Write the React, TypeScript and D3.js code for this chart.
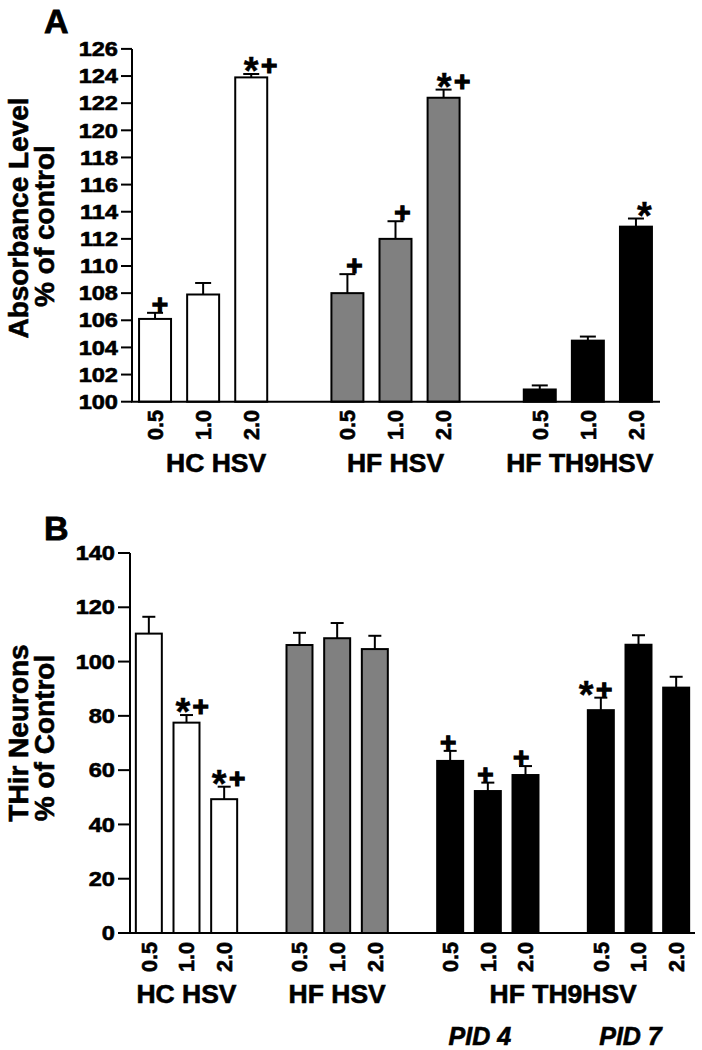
import React from "react";
import * as d3 from "d3";

// ---------- DATA ----------
const doseLabels = ["0.5", "1.0", "2.0"];

// Panel A: Absorbance level (% of control)
const groupsA = ["HC HSV", "HF HSV", "HF TH9HSV"];
const meansA = [
  [106.1, 107.9, 123.9],
  [108.0, 112.0, 122.4],
  [100.9, 104.5, 112.9],
];
const errorsA = [
  [0.45, 0.85, 0.25],
  [1.4, 1.3, 0.6],
  [0.3, 0.3, 0.6],
];
const marksA = [
  ["+", "", "*+"],
  ["+", "+", "*+"],
  ["", "", "*"],
];
const ticksA = d3.range(100, 127, 2);

// Panel B: THir neurons (% of control)
const groupsB = ["HC HSV", "HF HSV", "HF TH9HSV", "HF TH9HSV"];
const subLabelsB = ["", "", "PID 4", "PID 7"];
const meansB = [
  [110.3, 77.5, 49.3],
  [106.1, 108.6, 104.6],
  [63.4, 52.3, 58.2],
  [82.1, 106.2, 90.4],
];
const errorsB = [
  [6.2, 2.8, 4.6],
  [4.5, 5.6, 4.9],
  [3.7, 3.1, 3.3],
  [4.6, 3.5, 4.0],
];
const marksB = [
  ["", "*+", "*+"],
  ["", "", ""],
  ["+", "+", "+"],
  ["*+", "", ""],
];
const ticksB = d3.range(0, 141, 20);

// ---------- LAYOUT / STYLE ----------
const FONT = "'Liberation Sans', Arial, Helvetica, sans-serif";
const TXT = { fontWeight: "bold" as const, fontFamily: FONT, stroke: "#000", strokeWidth: 0.6 };
const fillsA = ["#ffffff", "#808080", "#000000"];
const fillsB = ["#ffffff", "#808080", "#000000", "#000000"];
// horizontal offsets of the first significance glyph relative to bar centre
const markDxA = [
  [5, 0, 0],
  [7, 7, 0.5],
  [0, 0, 8.5],
];
const markDxB = [
  [0, -3.7, -5],
  [0, 0, 0],
  [-2, -2.5, -4.3],
  [-14.7, 0, 0],
];

type PanelCfg = {
  letter: string;
  letterY: number;
  means: number[][];
  errors: number[][];
  marks: string[][];
  markDx: number[][];
  fills: string[];
  ticks: number[];
  yDomain: [number, number];
  yRange: [number, number];
  xRange: [number, number];
  axisX: number;
  padInner: number;
  capW: number;
  tickLen: number;
  doseTop: number;
  titles: [string, string];
  titleCenter: [number, number];
};

function Marks({ text, cx, errTop }: { text: string; cx: number; errTop: number }) {
  const out: React.ReactNode[] = [];
  let x = cx;
  for (let i = 0; i < text.length; i++) {
    const ch = text[i];
    if (ch === "*") {
      out.push(
        <text key={i} x={x} y={errTop + 10} textAnchor="middle" fontSize={38} {...TXT} strokeWidth={0.4}>
          *
        </text>
      );
    } else {
      out.push(
        <text key={i} x={x} y={errTop + 1} textAnchor="middle" fontSize={28} {...TXT} strokeWidth={1.2}>
          +
        </text>
      );
    }
    x += 18;
  }
  return <g>{out}</g>;
}

function Panel({ cfg }: { cfg: PanelCfg }) {
  const nGroups = cfg.means.length;
  const nSlots = nGroups * 4 - 1;
  const x = d3
    .scaleBand<number>()
    .domain(d3.range(nSlots))
    .range(cfg.xRange)
    .paddingInner(cfg.padInner)
    .paddingOuter(cfg.padInner / 2);
  const y = d3.scaleLinear().domain(cfg.yDomain).range(cfg.yRange);
  const bw = x.bandwidth();
  const y0 = y(cfg.yDomain[0]);
  const yTop = y(cfg.yDomain[1]);

  return (
    <g>
      <text x={44} y={cfg.letterY} fontSize={34} {...TXT} strokeWidth={0.8}>
        {cfg.letter}
      </text>
      {/* y axis title */}
      <text transform={`translate(28,${cfg.titleCenter[0]}) rotate(-90)`} textAnchor="middle" fontSize={28} {...TXT}>
        {cfg.titles[0]}
      </text>
      <text transform={`translate(54,${cfg.titleCenter[1]}) rotate(-90)`} textAnchor="middle" fontSize={28} {...TXT}>
        {cfg.titles[1]}
      </text>
      {/* bars */}
      {cfg.means.map((grp, g) =>
        grp.map((v, i) => {
          const slot = g * 4 + i;
          const bx = x(slot)!;
          const cx = bx + bw / 2;
          const top = y(v);
          const errTop = y(v + cfg.errors[g][i]);
          return (
            <g key={`${g}-${i}`}>
              <line x1={cx} x2={cx} y1={top} y2={errTop} stroke="#000" strokeWidth={2} />
              <line x1={cx - cfg.capW / 2} x2={cx + cfg.capW / 2} y1={errTop} y2={errTop} stroke="#000" strokeWidth={2} />
              <rect x={bx} y={top} width={bw} height={y0 - top} fill={cfg.fills[g]} stroke="#000" strokeWidth={2} />
              {cfg.marks[g][i] && <Marks text={cfg.marks[g][i]} cx={cx + cfg.markDx[g][i]} errTop={errTop} />}
              <text
                transform={`translate(${cx},${cfg.doseTop}) rotate(-90)`}
                textAnchor="end"
                dy="0.36em"
                fontSize={21.5}
                {...TXT}
              >
                {doseLabels[i]}
              </text>
            </g>
          );
        })
      )}
      {/* axes */}
      <line x1={cfg.axisX} x2={cfg.axisX} y1={yTop} y2={y0} stroke="#000" strokeWidth={2} />
      <line x1={cfg.axisX - 1} x2={cfg.xRange[1]} y1={y0} y2={y0} stroke="#000" strokeWidth={2} />
      {cfg.ticks.map((t) => (
        <g key={t}>
          <line x1={cfg.axisX - cfg.tickLen} x2={cfg.axisX} y1={y(t)} y2={y(t)} stroke="#000" strokeWidth={2} />
          <text
            transform={`translate(${cfg.axisX - cfg.tickLen - 3},${y(t)}) scale(1.18,1)`}
            textAnchor="end"
            dy="0.36em"
            fontSize={20}
            {...TXT}
          >
            {t}
          </text>
        </g>
      ))}
    </g>
  );
}

export default function App() {
  const cfgA: PanelCfg = {
    letter: "A",
    letterY: 33,
    means: meansA,
    errors: errorsA,
    marks: marksA,
    markDx: markDxA,
    fills: fillsA,
    ticks: ticksA,
    yDomain: [100, 126],
    yRange: [401.7, 48.9],
    xRange: [131, 660],
    axisX: 132,
    padInner: 0.335,
    capW: 16,
    tickLen: 11,
    doseTop: 410,
    titles: ["Absorbance Level", "% of control"],
    titleCenter: [218, 226],
  };
  const cfgB: PanelCfg = {
    letter: "B",
    letterY: 540,
    means: meansB,
    errors: errorsB,
    marks: marksB,
    markDx: markDxB,
    fills: fillsB,
    ticks: ticksB,
    yDomain: [0, 140],
    yRange: [933, 553],
    xRange: [130, 695],
    axisX: 130,
    padInner: 0.31,
    capW: 13,
    tickLen: 12,
    doseTop: 942,
    titles: ["THir Neurons", "% of Control"],
    titleCenter: [733, 738],
  };

  // group label positions
  const xA = d3.scaleBand<number>().domain(d3.range(11)).range(cfgA.xRange).paddingInner(0.335).paddingOuter(0.1675);
  const xB = d3.scaleBand<number>().domain(d3.range(15)).range(cfgB.xRange).paddingInner(0.31).paddingOuter(0.155);
  const groupCenterA = (g: number) => xA(g * 4 + 1)! + xA.bandwidth() / 2;
  const groupCenterB = (g: number) => xB(g * 4 + 1)! + xB.bandwidth() / 2;
  const groupLabelDxA = [13, 0, -8];

  return (
    <svg width={702} height={1050} style={{ position: "absolute", left: 0, top: 0, background: "#fff" }}>
      <rect width={702} height={1050} fill="#fff" />
      <Panel cfg={cfgA} />
      <Panel cfg={cfgB} />
      {groupsA.map((name, g) => (
        <text key={name} x={groupCenterA(g) + groupLabelDxA[g]} y={472} textAnchor="middle" fontSize={26.5} {...TXT}>
          {name}
        </text>
      ))}
      {[0, 1].map((g) => (
        <text key={g} x={groupCenterB(g)} y={1003} textAnchor="middle" fontSize={26.5} {...TXT}>
          {groupsB[g]}
        </text>
      ))}
      <text x={(groupCenterB(2) + groupCenterB(3)) / 2} y={1003} textAnchor="middle" fontSize={26.5} {...TXT}>
        {groupsB[2]}
      </text>
      {[2, 3].map((g) => (
        <text key={`pid${g}`} x={groupCenterB(g) - 8} y={1045} textAnchor="middle" fontSize={25} fontStyle="italic" {...TXT}>
          {subLabelsB[g]}
        </text>
      ))}
    </svg>
  );
}
